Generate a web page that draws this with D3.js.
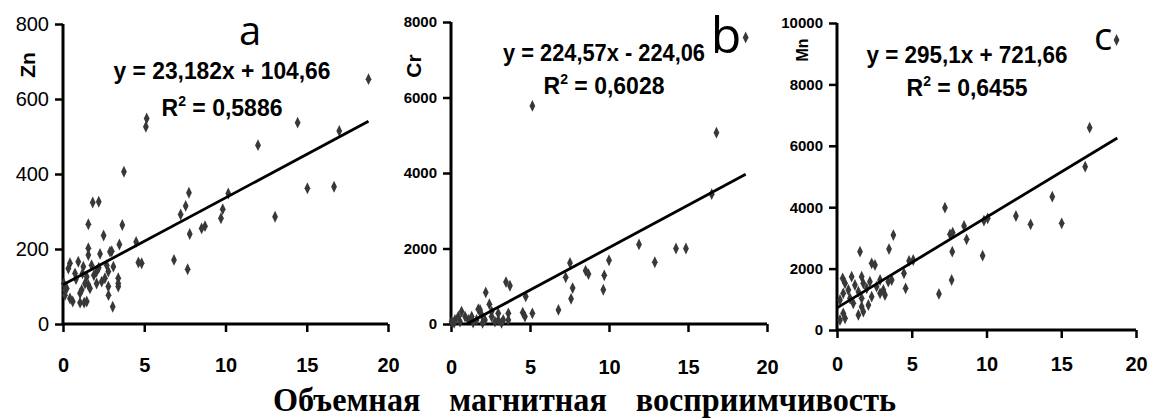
<!DOCTYPE html>
<html><head><meta charset="utf-8">
<script src="https://cdn.jsdelivr.net/npm/d3@7"></script>
<style>body{margin:0;background:#fff}svg{display:block}</style>
</head><body>
<svg id="chart" width="1149" height="418"></svg>
<script>
// ---- data ----
const xTicks = [0, 5, 10, 15, 20];
const aYTicks = [0, 200, 400, 600, 800];
const bYTicks = [0, 2000, 4000, 6000, 8000];
const cYTicks = [0, 2000, 4000, 6000, 8000, 10000];
const panelLetters = ["a", "b", "c"];
const elements = ["Zn", "Cr", "Mn"];
const equations = ["y = 23,182x + 104,66", "y = 224,57x - 224,06", "y = 295,1x + 721,66"];
const r2Values = ["0,5886", "0,6028", "0,6455"];
const slopes = [23.182, 224.57, 295.1];
const intercepts = [104.66, -224.06, 721.66];
const lineXStart = [0, 0.998, 0];
const lineXEnd = [18.8, 18.65, 18.75];
const xTitle = "Объемная магнитная восприимчивость";

const aX = [18.8,17.0,14.44,12.0,5.15,5.1,3.75,7.75,10.17,15.04,16.68,1.83,2.2,1.56,2.5,3.65,3.47,3.0,2.28,4.5,4.64,4.84,3.06,2.8,3.4,3.4,0.6,1.05,1.3,7.55,7.24,7.8,7.67,6.83,9.83,9.72,8.53,8.74,13.05,
  1.56,1.56,2.89,0.43,0.94,0.33,1.25,1.76,2.69,2.07,0.74,1.46,2.79,3.1,2.58,3.4,0.23,0.12,0.43,1.15,1.35,1.56,1.05,1.66,1.46,2.79,2.07,2.38,0.12,0.05,1.9,2.2,0.8,1.2];
const aY = [653,515,537,477,548,526,406,350,348,362,366,324,326,266,236,264,212,194,187,219,164,162,46,77,100,122,60,57,57,315,292,240,146,171,306,282,255,261,286,
  202,184,193,162,166,148,153,157,157,140,135,126,140,153,122,108,95,77,68,91,108,104,82,95,60,100,108,113,91,108,130,150,120,135];

const bX = [18.65,5.15,16.8,16.5,11.9,14.24,14.87,12.9,10.0,9.7,9.64,8.52,8.7,7.53,7.26,7.7,7.6,6.8,5.15,4.73,4.54,4.68,3.48,3.73,3.63,2.2,2.43,1.84,
  0.67,0.89,0.46,0.25,1.31,1.94,2.57,2.99,2.99,3.31,2.15,1.62,1.1,0.57,0.04,3.63,2.78,2.57,1.73,0.2,1.4,3.2,2.0];
const bY = [7590,5778,5067,3440,2107,2000,2000,1636,1689,1289,907,1413,1324,1618,1236,951,667,373,284,729,302,196,1111,1013,284,836,524,373,
  329,196,196,107,196,240,196,284,107,107,107,107,107,62,62,107,62,329,391,30,40,30,30];

const cX = [18.7,16.9,16.6,14.4,15.03,12.95,11.97,10.08,9.83,9.74,8.67,8.5,7.56,7.74,7.22,7.71,7.67,6.82,4.59,4.48,4.82,5.1,3.77,3.48,1.54,2.32,2.54,3.66,
  0.38,0.98,1.65,0.54,1.2,1.76,2.2,2.88,3.43,0.76,1.43,1.99,2.65,3.1,3.21,2.88,0.42,0.2,0.87,1.65,2.32,1.65,1.76,1.43,0.42,0.2,0.54,2.1,1.09];
const cY = [9446,6590,5320,4343,3474,3442,3713,3637,3561,2421,2953,3388,3116,3170,3985,2552,1629,1173,1357,1846,2248,2280,3094,2638,2552,2171,2117,1629,
  1683,1737,1737,1520,1466,1520,1574,1629,1574,1303,1249,1357,1412,1303,1140,1194,1194,977,1032,1032,1086,760,597,489,543,326,380,814,869];

// ---- layout ----
const panels = [
  {xs: aX, ys: aY, yTicks: aYTicks, yMax: 800, xr: [63, 388], yr: [324, 24], tickFont: "20px", tickWeight: "normal", xLabY: 372,
   letter: {x: 250, y: 45, size: 40}, el: {x: 28, y: 65, size: 21}, eq: {x: 222, y: 79, y2: 116, size: 23, w: 217, w2: 120}},
  {xs: bX, ys: bY, yTicks: bYTicks, yMax: 8000, xr: [451, 767], yr: [324, 22], tickFont: "15px", tickWeight: "bold", xLabY: 374,
   letter: {x: 726, y: 53, size: 50}, el: {x: 414, y: 66, size: 21}, eq: {x: 604, y: 61, y2: 94, size: 23, w: 202, w2: 120}},
  {xs: cX, ys: cY, yTicks: cYTicks, yMax: 10000, xr: [837, 1136], yr: [330, 23], tickFont: "15px", tickWeight: "bold", xLabY: 371,
   letter: {x: 1103, y: 50, size: 38}, el: {x: 802, y: 50, size: 16}, eq: {x: 967, y: 63, y2: 96, size: 23, w: 201, w2: 120}}
];

const svg = d3.select("#chart");
const FONT = "'Liberation Sans', Arial, sans-serif";

panels.forEach((p, i) => {
  const x = d3.scaleLinear().domain([0, 20]).range(p.xr);
  const y = d3.scaleLinear().domain([0, p.yMax]).range(p.yr);
  const g = svg.append("g");

  // y axis
  const ya = g.append("g").attr("transform", `translate(${p.xr[0]},0)`)
    .call(d3.axisLeft(y).tickValues(p.yTicks).tickSize(8).tickPadding(6).tickFormat(d3.format("d")));
  ya.select(".domain").attr("stroke", "#000").attr("stroke-width", 3).attr("d", `M0,${p.yr[0]}V${p.yr[1]}`);
  ya.selectAll(".tick line").attr("stroke", "#000").attr("stroke-width", 2.5);
  ya.selectAll(".tick text").attr("font-family", FONT).attr("font-size", p.tickFont)
    .attr("font-weight", p.tickWeight).attr("fill", "#000");

  // x axis
  const xa = g.append("g").attr("transform", `translate(0,${p.yr[0]})`)
    .call(d3.axisBottom(x).tickValues(xTicks).tickSize(8).tickPadding(0).tickFormat(d3.format("d")));
  xa.select(".domain").attr("stroke", "#000").attr("stroke-width", 3).attr("d", `M${p.xr[0]},0H${p.xr[1]}`);
  xa.selectAll(".tick line").attr("stroke", "#000").attr("stroke-width", 2.5);
  xa.selectAll(".tick text").attr("font-family", FONT).attr("font-size", "20px").attr("font-weight", "bold")
    .attr("fill", "#000").attr("dy", null).attr("y", p.xLabY - p.yr[0]);

  // points
  const sym = d3.symbol().type(d3.symbolDiamond).size(40);
  g.append("g").selectAll("path").data(p.xs.map((v, k) => [v, p.ys[k]])).join("path")
    .attr("d", sym).attr("transform", d => `translate(${x(d[0])},${y(d[1])}) scale(0.85,1)`)
    .attr("fill", "#383838");

  // regression line
  const x0 = lineXStart[i], x1 = lineXEnd[i];
  g.append("line")
    .attr("x1", x(x0)).attr("y1", y(slopes[i] * x0 + intercepts[i]))
    .attr("x2", x(x1)).attr("y2", y(slopes[i] * x1 + intercepts[i]))
    .attr("stroke", "#000").attr("stroke-width", 2.8);

  // equation
  g.append("text").attr("x", p.eq.x - p.eq.w / 2).attr("y", p.eq.y)
    .attr("textLength", p.eq.w).attr("lengthAdjust", "spacingAndGlyphs")
    .attr("font-family", FONT).attr("font-weight", "bold").attr("font-size", p.eq.size + "px")
    .text(equations[i]);
  const r = g.append("text").attr("x", p.eq.x).attr("y", p.eq.y2).attr("text-anchor", "middle")
    .attr("font-family", FONT).attr("font-weight", "bold").attr("font-size", p.eq.size + "px");
  r.append("tspan").text("R");
  r.append("tspan").attr("dy", -10).attr("font-size", "14px").text("2");
  r.append("tspan").attr("dy", 10).text(" = " + r2Values[i]);

  // panel letter
  g.append("text").attr("x", p.letter.x).attr("y", p.letter.y).attr("text-anchor", "middle")
    .attr("font-family", "'Open Sans', sans-serif").attr("font-size", p.letter.size + "px")
    .text(panelLetters[i]);

  // element label
  g.append("text").attr("transform", `translate(${p.el.x},${p.el.y}) rotate(-90)`)
    .attr("text-anchor", "middle").attr("dy", "0.35em")
    .attr("font-family", FONT).attr("font-weight", "bold").attr("font-size", p.el.size + "px")
    .text(elements[i]);
});

svg.append("text").attr("x", 273).attr("y", 411)
  .attr("textLength", 623).attr("lengthAdjust", "spacingAndGlyphs")
  .attr("font-family", "'Liberation Serif', 'Times New Roman', serif").attr("font-weight", "bold")
  .attr("font-size", "34px").attr("word-spacing", "22px").text(xTitle);
</script>
</body></html>
